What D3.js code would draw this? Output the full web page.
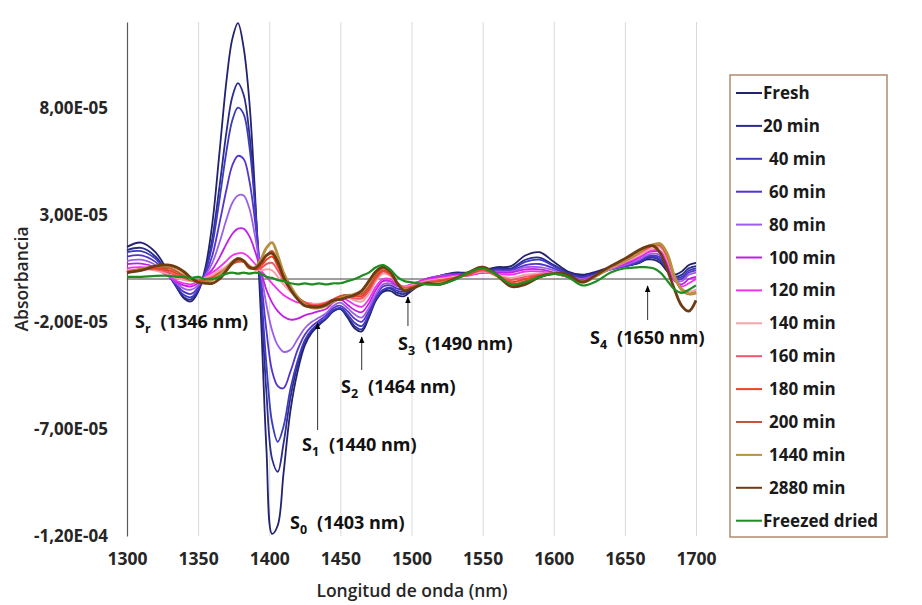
<!DOCTYPE html>
<html>
<head>
<meta charset="utf-8">
<script src="https://cdn.jsdelivr.net/npm/d3@7"></script>
<style>
  html, body { margin: 0; padding: 0; background: #ffffff; }
  svg { display: block; }
  text { font-family: "Open Sans", Lato, sans-serif; }
</style>
</head>
<body>
<svg id="chart" width="922" height="605"></svg>
<script>
// ---------------- DATA (absorbance in units of 1E-05) ----------------
const wavelengths = [1300,1310,1320,1330,1335,1340,1345,1350,1355,1360,1365,1370,1374,1378,1382,1386,1390,1394,1398,1402,1406,1410,1415,1420,1425,1430,1435,1440,1445,1450,1455,1460,1465,1470,1475,1480,1485,1490,1495,1500,1510,1520,1530,1540,1550,1560,1570,1580,1590,1600,1610,1620,1630,1640,1650,1660,1665,1670,1675,1680,1685,1690,1695,1700];

const seriesNames = ["Fresh","20 min","40 min","60 min","80 min","100 min","120 min","140 min","160 min","180 min","200 min","1440 min","2880 min","Freezed dried"];
const legendLabels = ["Fresh","20 min"," 40 min"," 60 min"," 80 min"," 100 min"," 120 min"," 140 min"," 160 min"," 180 min"," 200 min"," 1440 min"," 2880 min","Freezed dried"];

const fresh   = [1.5,1.7,1.25,0.2,-0.4,-0.9,-1.05,-0.6,0.5,2.6,5.9,9.3,11.2,11.95,10.8,8.3,4.0,-1.5,-7.9,-11.9,-11.5,-9.1,-6.1,-4.3,-3.1,-2.5,-2.15,-1.85,-1.5,-1.4,-1.8,-2.3,-2.45,-1.8,-1.0,-0.6,-0.55,-0.75,-0.8,-0.55,-0.1,0.15,0.3,0.3,0.4,0.55,0.6,1.1,1.25,0.8,0.35,0.2,0.35,0.55,0.6,0.75,0.9,0.9,0.75,0.35,0.2,0.35,0.65,0.75];
const min20   = [1.35,1.45,1.05,0.1,-0.4,-0.85,-0.95,-0.55,0.35,1.9,4.3,6.9,8.5,9.15,8.6,6.8,3.6,-0.6,-5.3,-8.4,-9.0,-7.7,-5.5,-4.0,-2.95,-2.4,-2.1,-1.85,-1.5,-1.4,-1.75,-2.2,-2.35,-1.75,-0.95,-0.55,-0.45,-0.65,-0.7,-0.5,-0.1,0.15,0.25,0.25,0.35,0.5,0.5,0.9,1.0,0.65,0.3,0.15,0.3,0.5,0.6,0.75,0.95,1.0,0.85,0.4,0.1,0.2,0.5,0.6];
const min40   = [1.25,1.3,0.95,0.1,-0.35,-0.75,-0.85,-0.5,0.3,1.6,3.7,6.0,7.4,8.0,7.7,6.2,3.4,-0.2,-4.0,-6.7,-7.6,-6.9,-5.1,-3.8,-2.85,-2.35,-2.05,-1.8,-1.45,-1.35,-1.65,-2.05,-2.2,-1.65,-0.9,-0.5,-0.4,-0.55,-0.6,-0.45,-0.05,0.15,0.25,0.25,0.35,0.45,0.45,0.8,0.9,0.6,0.25,0.1,0.25,0.45,0.6,0.8,1.0,1.05,0.9,0.45,0.05,0.1,0.4,0.5];
const min60   = [1.05,1.1,0.8,0.1,-0.3,-0.6,-0.7,-0.4,0.2,1.1,2.6,4.2,5.3,5.75,5.6,4.6,2.7,0.2,-2.4,-4.3,-5.0,-5.1,-4.3,-3.3,-2.6,-2.2,-1.95,-1.7,-1.35,-1.25,-1.5,-1.85,-2.0,-1.5,-0.8,-0.35,-0.3,-0.45,-0.5,-0.35,0.0,0.15,0.2,0.2,0.3,0.4,0.4,0.65,0.7,0.5,0.2,0.05,0.2,0.45,0.6,0.85,1.05,1.1,1.0,0.5,0.0,0.0,0.3,0.4];
const min80   = [0.85,0.9,0.65,0.1,-0.2,-0.45,-0.5,-0.3,0.15,0.75,1.7,2.8,3.55,3.9,3.9,3.3,2.0,0.4,-1.2,-2.4,-3.1,-3.4,-3.3,-2.8,-2.3,-2.0,-1.8,-1.6,-1.25,-1.1,-1.35,-1.65,-1.8,-1.35,-0.7,-0.25,-0.2,-0.35,-0.4,-0.3,0.0,0.15,0.2,0.2,0.3,0.35,0.35,0.55,0.55,0.4,0.15,0.0,0.2,0.45,0.65,0.9,1.1,1.2,1.1,0.55,-0.05,-0.1,0.2,0.3];
const min100  = [0.7,0.72,0.55,0.1,-0.15,-0.3,-0.35,-0.2,0.1,0.45,1.0,1.65,2.1,2.35,2.35,2.0,1.3,0.4,-0.5,-1.1,-1.5,-1.75,-1.9,-1.85,-1.7,-1.6,-1.5,-1.4,-1.1,-0.95,-1.2,-1.45,-1.55,-1.15,-0.5,-0.1,-0.1,-0.3,-0.35,-0.25,0.0,0.1,0.2,0.2,0.3,0.3,0.3,0.45,0.45,0.3,0.1,-0.05,0.2,0.5,0.7,1.0,1.2,1.3,1.25,0.65,-0.1,-0.25,0.0,0.1];
const min120  = [0.5,0.55,0.45,0.1,-0.1,-0.2,-0.25,-0.1,0.1,0.3,0.55,0.85,1.1,1.2,1.2,1.0,0.7,0.4,0.1,-0.2,-0.5,-0.75,-0.95,-1.1,-1.1,-1.15,-1.2,-1.2,-1.0,-0.85,-1.0,-1.2,-1.3,-0.95,-0.35,0.0,0.0,-0.25,-0.35,-0.25,-0.05,0.05,0.15,0.15,0.3,0.25,0.2,0.35,0.35,0.25,0.1,-0.1,0.15,0.5,0.75,1.05,1.25,1.35,1.3,0.75,-0.05,-0.35,-0.2,0.0];
const min140  = [0.4,0.45,0.4,0.2,0.05,-0.05,-0.1,-0.05,0.05,0.2,0.4,0.6,0.8,0.9,0.85,0.65,0.45,0.4,0.45,0.4,0.1,-0.25,-0.6,-0.9,-1.1,-1.15,-1.15,-1.1,-0.95,-0.8,-0.85,-1.0,-1.05,-0.7,-0.1,0.25,0.15,-0.2,-0.35,-0.3,-0.1,0.0,0.1,0.2,0.35,0.2,0.05,0.2,0.25,0.25,0.1,-0.1,0.15,0.5,0.8,1.1,1.3,1.45,1.45,0.9,0.0,-0.45,-0.6,-0.5];
const min160  = [0.35,0.45,0.45,0.3,0.15,0.05,-0.05,-0.05,0.0,0.1,0.3,0.5,0.75,0.85,0.8,0.6,0.45,0.5,0.7,0.75,0.4,-0.05,-0.5,-0.85,-1.1,-1.2,-1.2,-1.1,-0.95,-0.8,-0.8,-0.9,-0.9,-0.55,0.0,0.35,0.2,-0.2,-0.4,-0.35,-0.15,-0.05,0.05,0.2,0.4,0.15,-0.05,0.1,0.2,0.25,0.1,-0.1,0.15,0.55,0.85,1.2,1.4,1.55,1.55,1.0,0.05,-0.5,-0.7,-0.6];
const min180  = [0.3,0.45,0.5,0.4,0.25,0.1,-0.05,-0.1,-0.05,0.05,0.25,0.45,0.7,0.8,0.8,0.55,0.45,0.6,0.9,1.05,0.6,0.05,-0.45,-0.85,-1.1,-1.25,-1.25,-1.15,-1.0,-0.8,-0.75,-0.8,-0.8,-0.45,0.1,0.4,0.25,-0.2,-0.45,-0.4,-0.2,-0.1,0.05,0.2,0.45,0.15,-0.15,0.0,0.15,0.25,0.1,-0.1,0.15,0.55,0.85,1.25,1.45,1.6,1.6,1.05,0.05,-0.5,-0.7,-0.65];
const min200  = [0.3,0.45,0.55,0.5,0.35,0.15,-0.05,-0.15,-0.1,0.0,0.2,0.45,0.7,0.85,0.85,0.55,0.5,0.7,1.1,1.3,0.8,0.15,-0.4,-0.85,-1.15,-1.3,-1.3,-1.2,-1.0,-0.85,-0.75,-0.75,-0.7,-0.35,0.2,0.5,0.3,-0.2,-0.5,-0.45,-0.2,-0.15,0.0,0.25,0.5,0.15,-0.25,-0.1,0.1,0.25,0.15,-0.1,0.15,0.55,0.85,1.25,1.5,1.6,1.6,1.1,0.1,-0.5,-0.7,-0.65];
const min1440 = [0.3,0.45,0.6,0.6,0.5,0.3,0.0,-0.15,-0.15,-0.05,0.2,0.5,0.8,0.95,0.85,0.5,0.55,0.9,1.45,1.7,1.1,0.3,-0.35,-0.85,-1.2,-1.35,-1.35,-1.25,-1.05,-0.9,-0.8,-0.7,-0.55,-0.15,0.35,0.55,0.35,-0.2,-0.5,-0.45,-0.2,-0.2,0.0,0.3,0.55,0.15,-0.3,-0.2,0.1,0.25,0.15,-0.15,0.15,0.55,0.85,1.25,1.5,1.6,1.65,1.15,0.1,-0.5,-0.7,-0.65];
const min2880 = [0.3,0.4,0.6,0.65,0.55,0.35,0.05,-0.15,-0.2,-0.2,0.0,0.4,0.75,0.95,0.85,0.55,0.5,0.75,1.1,1.2,0.8,0.1,-0.5,-0.95,-1.25,-1.3,-1.3,-1.2,-1.0,-0.95,-0.85,-0.75,-0.55,-0.1,0.35,0.55,0.35,-0.2,-0.55,-0.45,-0.2,-0.25,0.0,0.3,0.55,0.2,-0.35,-0.25,0.1,0.25,0.2,-0.15,0.2,0.6,0.95,1.35,1.5,1.55,1.2,0.4,-0.5,-1.25,-1.5,-1.0];
const freezeDried = [0.1,0.1,0.15,0.15,0.1,0.1,0.05,0.1,0.0,0.0,0.1,0.25,0.3,0.25,0.3,0.25,0.3,0.25,0.1,0.05,-0.05,-0.1,-0.2,-0.25,-0.2,-0.25,-0.2,-0.25,-0.2,-0.2,-0.1,0.0,0.15,0.3,0.55,0.65,0.45,0.1,-0.1,-0.15,-0.25,-0.25,-0.05,0.3,0.5,0.2,-0.25,-0.15,0.1,0.25,0.1,-0.3,-0.1,0.3,0.5,0.55,0.55,0.5,0.3,-0.1,-0.5,-0.65,-0.5,-0.3];

const seriesValues = [fresh,min20,min40,min60,min80,min100,min120,min140,min160,min180,min200,min1440,min2880,freezeDried];

const xTickValues = [1300,1350,1400,1450,1500,1550,1600,1650,1700];
const yTickValues = [-12,-7,-2,3,8];
const yTickLabels = ["-1,20E-04","-7,00E-05","-2,00E-05","3,00E-05","8,00E-05"];

const annotations = [
  {sub:"r", text:"(1346 nm)"},
  {sub:"0", text:"(1403 nm)"},
  {sub:"1", text:"(1440 nm)"},
  {sub:"2", text:"(1464 nm)"},
  {sub:"3", text:"(1490 nm)"},
  {sub:"4", text:"(1650 nm)"}
];

// ---------------- STYLE ----------------
const colors = ["#22226e","#2b2b8c","#3b3bbd","#5533cc","#9c5ee8","#c21fe6","#f232f0","#f5a3a6","#f2546a","#f2401f","#c4573a","#b8913f","#6e3b12","#1f8c22"];
const widths = [1.8,1.8,1.8,1.8,1.8,1.8,1.8,2,2,2,2.2,2.8,2.8,2.2];
const FONT = "'Open Sans', Lato, sans-serif";

const svg = d3.select("#chart");
const L = 127, R = 696, T = 22, B = 536;

const x = d3.scaleLinear().domain([1300,1700]).range([L,R]);
const y = d3.scaleLinear().domain([-12,12]).range([B,T]);

// gridlines
svg.append("g")
  .attr("transform",`translate(0,${B})`)
  .call(d3.axisBottom(x).tickValues(xTickValues.slice(1)).tickSize(-(B-T)).tickFormat(""))
  .call(g => g.select(".domain").remove())
  .call(g => g.selectAll("line").attr("stroke","#d9d9d9").attr("stroke-width",1));

// x labels
svg.append("g")
  .attr("transform",`translate(0,${B})`)
  .call(d3.axisBottom(x).tickValues(xTickValues).tickSize(0).tickPadding(17).tickFormat(d3.format("d")))
  .call(g => g.select(".domain").remove())
  .call(g => g.selectAll("text").attr("font-size",17.5).attr("font-weight","bold").attr("fill","#262626").attr("font-family",FONT));

// y axis
svg.append("g")
  .attr("transform",`translate(${L},0)`)
  .call(d3.axisLeft(y).tickValues(yTickValues).tickSize(0).tickSizeOuter(0).tickPadding(19)
        .tickFormat((d,i) => yTickLabels[i]))
  .call(g => g.select(".domain").attr("stroke","#595959").attr("stroke-width",1.2))
  .call(g => g.selectAll("text").attr("font-size",17).attr("font-weight","bold").attr("fill","#262626").attr("font-family",FONT));

// zero line
svg.append("line")
  .attr("x1",x(1300)).attr("x2",x(1700)).attr("y1",y(0)).attr("y2",y(0))
  .attr("stroke","#404040").attr("stroke-width",1.2);

// lines
const line = d3.line()
  .x((d,i) => x(wavelengths[i]))
  .y(d => y(d))
  .curve(d3.curveCatmullRom.alpha(0.5));

svg.append("g").selectAll("path")
  .data(seriesValues)
  .join("path")
  .attr("d", d => line(d))
  .attr("fill","none")
  .attr("stroke",(d,i) => colors[i])
  .attr("stroke-width",(d,i) => widths[i])
  .attr("stroke-linejoin","round");

// axis titles
svg.append("text")
  .attr("x",412).attr("y",597)
  .attr("text-anchor","middle")
  .attr("font-size",17.5).attr("font-weight",600).attr("fill","#262626")
  .text("Longitud de onda (nm)");
svg.append("text")
  .attr("transform",`translate(28,${(T+B)/2}) rotate(-90)`)
  .attr("text-anchor","middle")
  .attr("font-size",17.5).attr("font-weight",600).attr("fill","#262626")
  .text("Absorbancia");

// annotations
svg.append("defs").append("marker")
  .attr("id","arrow").attr("viewBox","0 0 10 10").attr("refX",9).attr("refY",5)
  .attr("markerWidth",7).attr("markerHeight",7).attr("orient","auto")
  .append("path").attr("d","M0,1 L10,5 L0,9 z").attr("fill","#000");

const annPos = [
  {tx:135, ty:328},
  {tx:290, ty:529},
  {tx:302, ty:451, ax:1434, a1:430, a2:323},
  {tx:341, ty:393, ax:1465, a1:370, a2:337},
  {tx:398, ty:350, ax:1497.5, a1:326, a2:297},
  {tx:590, ty:344, ax:1666, a1:320, a2:286}
];

annotations.forEach((a,i) => {
  const p = annPos[i];
  const t = svg.append("text")
    .attr("x",p.tx).attr("y",p.ty)
    .attr("font-size",18).attr("font-weight","bold").attr("fill","#111");
  t.append("tspan").text("S");
  t.append("tspan").attr("font-size",12.5).attr("dy",5).text(a.sub);
  t.append("tspan").attr("dy",-5).attr("dx",10).text(a.text);
  if (p.ax !== undefined) {
    svg.append("line")
      .attr("x1",x(p.ax)).attr("x2",x(p.ax))
      .attr("y1",p.a1).attr("y2",p.a2)
      .attr("stroke","#333").attr("stroke-width",1)
      .attr("marker-end","url(#arrow)");
  }
});

// legend
const lg = svg.append("g");
lg.append("rect")
  .attr("x",730).attr("y",75).attr("width",157).attr("height",462)
  .attr("fill","#fff").attr("stroke","#b08a70").attr("stroke-width",1.5);
const entry = lg.selectAll("g.entry").data(seriesNames).join("g").attr("class","entry")
  .attr("transform",(d,i) => `translate(0,${93 + i*32.9})`);
entry.append("line")
  .attr("x1",736).attr("x2",762).attr("y1",0).attr("y2",0)
  .attr("stroke",(d,i) => colors[i]).attr("stroke-width",2);
entry.append("text")
  .attr("x",(d,i) => legendLabels[i].startsWith(" ") ? 769 : 763)
  .attr("y",6)
  .attr("font-size",17).attr("font-weight","bold").attr("fill","#1a1a1a")
  .text((d,i) => legendLabels[i].trim());
</script>
</body>
</html>
